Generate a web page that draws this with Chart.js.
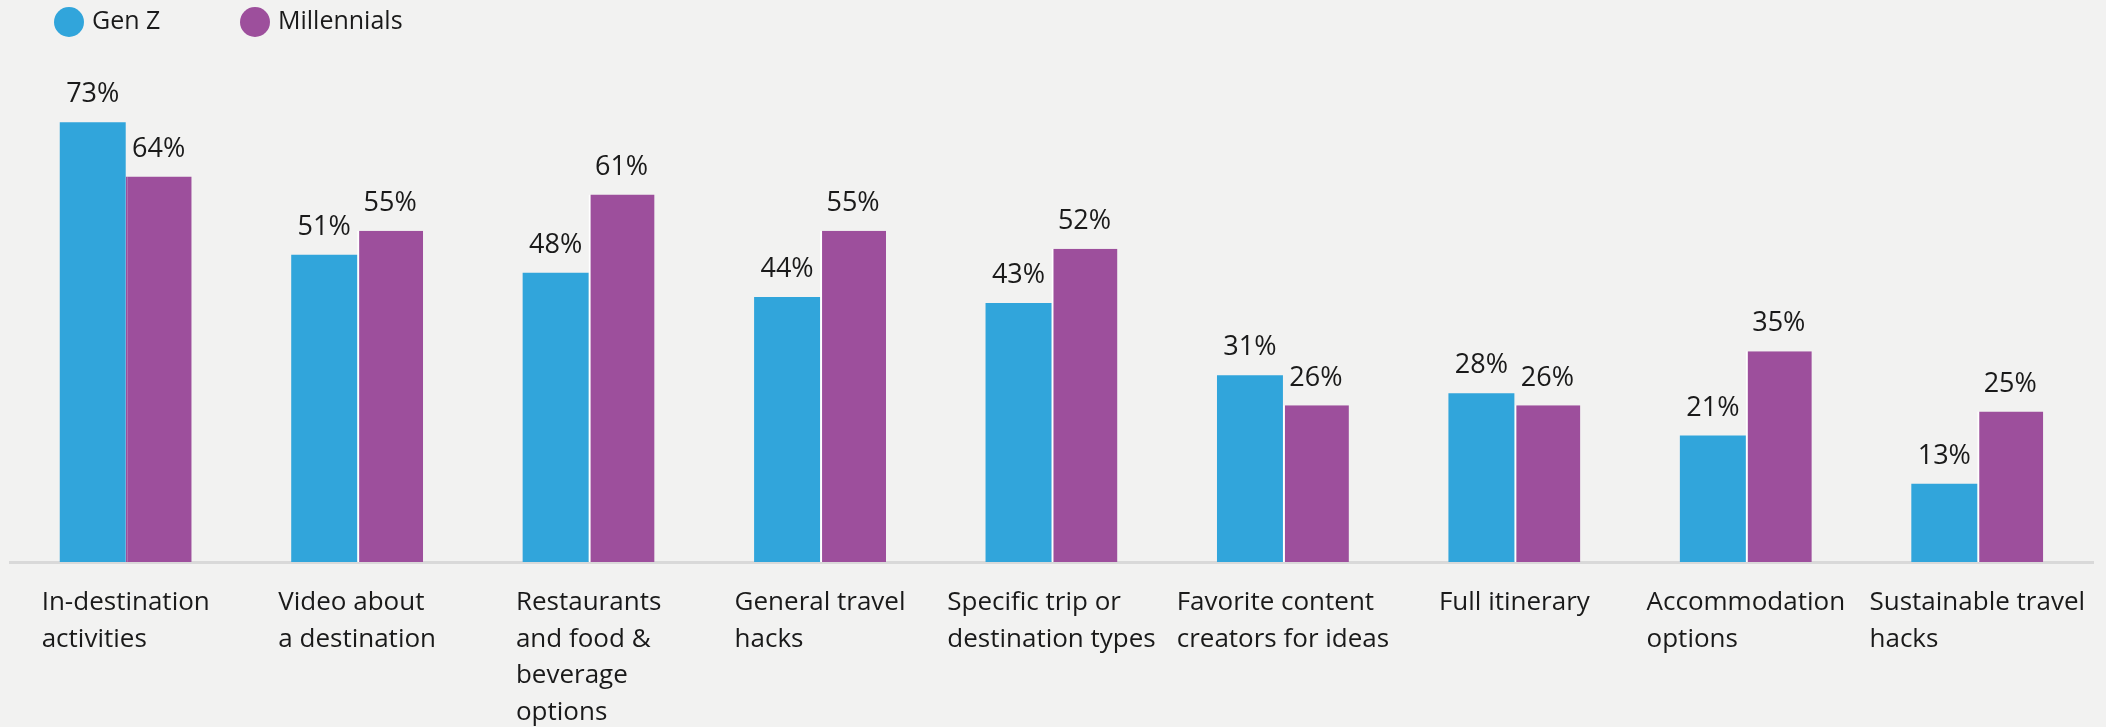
<!DOCTYPE html>
<html>

<head>
  <meta charset="utf-8">
  <title>Content types</title>
  <script src="https://cdn.jsdelivr.net/npm/chart.js@4.4.1/dist/chart.umd.min.js"></script>
  <style>
    html,
    body {
      margin: 0;
      padding: 0;
      background: #f2f2f1;
    }

    .chart-container {
      position: relative;
      width: 2106px;
      height: 727px;
    }
  </style>
</head>

<body>
  <div class="chart-container">
    <canvas id="canvas"></canvas>
  </div>

  <script>
    // categories (each one is split in lines)
    const categories = [
      ['In-destination', 'activities'],
      ['Video about', 'a destination'],
      ['Restaurants', 'and food &', 'beverage', 'options'],
      ['General travel', 'hacks'],
      ['Specific trip or', 'destination types'],
      ['Favorite content', 'creators for ideas'],
      ['Full itinerary'],
      ['Accommodation', 'options'],
      ['Sustainable travel', 'hacks']
    ];

    // values in percent
    const genZ = [73, 51, 48, 44, 43, 31, 28, 21, 13];
    const millennials = [64, 55, 61, 55, 52, 26, 26, 35, 25];

    const seriesNames = ['Gen Z', 'Millennials'];
    const blue = '#31a5db';
    const purple = '#9d4f9c';
    const textColor = '#1a1a1a';
    const fontName = '"Open Sans", "Noto Sans", sans-serif';

    // percent labels above the bars
    const valueLabels = {
      id: 'valueLabels',
      afterDatasetsDraw(chart) {
        const ctx = chart.ctx;
        ctx.save();
        ctx.font = '27px ' + fontName;
        ctx.fillStyle = textColor;
        ctx.textAlign = 'center';
        ctx.textBaseline = 'middle';
        chart.data.datasets.forEach(function (ds, i) {
          chart.getDatasetMeta(i).data.forEach(function (bar, j) {
            ctx.fillText(ds.data[j] + '%', bar.x, bar.y - 27.5);
          });
        });
        ctx.restore();
      }
    };

    // category names under the axis: a left aligned block, centered on the tick
    const categoryLabels = {
      id: 'categoryLabels',
      afterDraw(chart) {
        const ctx = chart.ctx;
        const xScale = chart.scales.x;
        const top = chart.chartArea.bottom;
        ctx.save();
        ctx.font = '26px ' + fontName;
        ctx.fillStyle = textColor;
        ctx.textAlign = 'left';
        ctx.textBaseline = 'middle';
        chart.data.labels.forEach(function (lines, i) {
          const widest = Math.max.apply(null, lines.map(l => ctx.measureText(l).width));
          const left = xScale.getPixelForValue(i) - widest / 2;
          lines.forEach(function (line, k) {
            ctx.fillText(line, left, top + 41 + k * 36.5);
          });
        });
        ctx.restore();
      }
    };

    // legend on the top left with round markers
    const topLegend = {
      id: 'topLegend',
      afterDraw(chart) {
        const ctx = chart.ctx;
        const starts = [69, 255];
        ctx.save();
        ctx.font = '25px ' + fontName;
        ctx.textBaseline = 'middle';
        ctx.textAlign = 'left';
        chart.data.datasets.forEach(function (ds, i) {
          ctx.fillStyle = ds.legendColor;
          ctx.beginPath();
          ctx.arc(starts[i], 22, 15, 0, Math.PI * 2);
          ctx.fill();
          ctx.fillStyle = textColor;
          ctx.fillText(ds.label, starts[i] + 23, 22);
        });
        ctx.restore();
      }
    };

    const chart1 = new Chart(document.getElementById('canvas'), {
      type: 'bar',
      data: {
        labels: categories,
        datasets: [{
          label: seriesNames[0],
          data: genZ,
          backgroundColor: blue,
          legendColor: blue,
          borderWidth: 0
        }, {
          label: seriesNames[1],
          data: millennials,
          backgroundColor: purple,
          legendColor: purple,
          // thin white gap between the two bars, except in the first group
          borderColor: categories.map((c, i) => i === 0 ? purple : '#ffffff'),
          borderWidth: { left: 2, top: 0, right: 0, bottom: 0 },
          borderSkipped: false
        }]
      },
      options: {
        responsive: true,
        maintainAspectRatio: false,
        animation: false,
        layout: {
          padding: { top: 80, bottom: 165, left: 10, right: 13 }
        },
        datasets: {
          bar: {
            categoryPercentage: 0.57,
            barPercentage: 1.0
          }
        },
        plugins: {
          legend: { display: false },
          tooltip: { enabled: false }
        },
        scales: {
          x: {
            grid: { display: false, drawTicks: false },
            border: { display: true, color: '#d9d9d9', width: 3 },
            ticks: { display: false }
          },
          y: {
            display: false,
            min: 0,
            max: 80
          }
        }
      },
      plugins: [valueLabels, categoryLabels, topLegend]
    });
  </script>
</body>

</html>
